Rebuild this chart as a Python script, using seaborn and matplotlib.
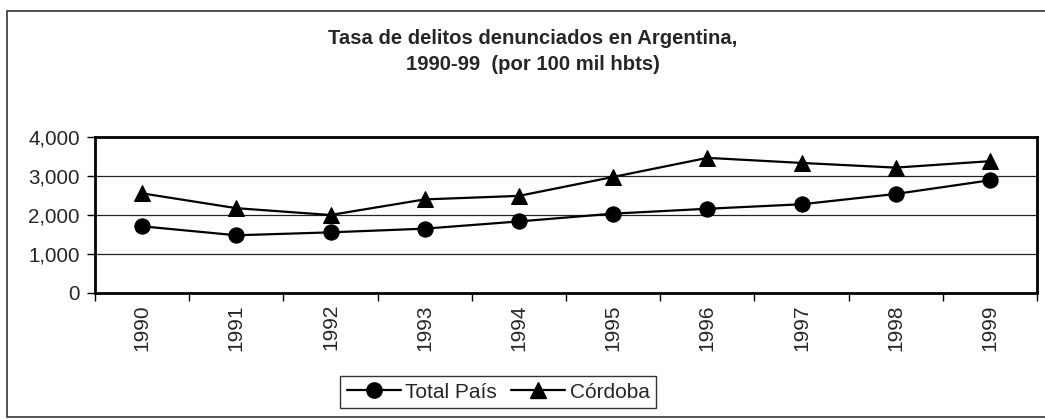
import numpy as np
import pandas as pd
import matplotlib
matplotlib.use("Agg")
import matplotlib.pyplot as plt
from matplotlib.lines import Line2D
from matplotlib.patches import Rectangle
import seaborn as sns

years = ["1990", "1991", "1992", "1993", "1994", "1995", "1996", "1997", "1998", "1999"]
total_pais = [1710, 1480, 1555, 1650, 1835, 2035, 2160, 2275, 2540, 2890]
cordoba = [2555, 2175, 2000, 2400, 2490, 2975, 3465, 3335, 3215, 3380]
series_names = ["Total País", "Córdoba"]
title = "Tasa de delitos denunciados en Argentina,\n1990-99  (por 100 mil hbts)"
yticks = [0, 1000, 2000, 3000, 4000]

df = pd.DataFrame({
    "year": years * 2,
    "value": total_pais + cordoba,
    "serie": [series_names[0]] * len(years) + [series_names[1]] * len(years),
})

sns.set_theme(style="white")
plt.rcParams["font.family"] = ["Liberation Sans", "DejaVu Sans"]

W, H = 1045, 419
fig = plt.figure(figsize=(W / 100, H / 100), dpi=100)
ax = fig.add_axes([95 / W, 1 - 293 / H, (1037 - 95) / W, (293 - 137) / H])

sns.lineplot(data=df, x="year", y="value", style="serie",
             markers={"Total País": "o", "Córdoba": "^"}, dashes=False,
             color="black", linewidth=1.6, markersize=11, ax=ax, legend=False,
             markeredgecolor="black", zorder=3)

ax.set_xlim(-0.5, len(years) - 0.5)
ax.set_ylim(0, 4000)
ax.set_yticks(yticks)
ax.set_yticklabels([f"{v:,}" for v in yticks], fontsize=14.8)
ax.set_xticks(range(len(years)))
ax.set_xticklabels(years, rotation=90, fontsize=15)
ax.set_xticks(np.arange(-0.5, len(years), 1), minor=True)
ax.tick_params(axis="x", which="major", length=0, pad=8)
ax.tick_params(axis="x", which="minor", length=6, width=1, color="black", direction="out", bottom=True)
ax.tick_params(axis="y", which="major", length=6, width=1, color="black", direction="out", left=True, pad=5)
ax.set_xlabel("")
ax.set_ylabel("")
for y in yticks[1:-1]:
    ax.axhline(y, color="#222222", linewidth=0.9, zorder=1)
for s in ax.spines.values():
    s.set_color("black")
    s.set_linewidth(2)
    s.set_visible(True)
ax.grid(False)

fig.text(533 / W, 1 - 29 / H, title, ha="center", va="top", fontsize=14.6,
         fontweight="bold", linespacing=1.5)

handles = [Line2D([], [], color="black", marker="o", markersize=11, linewidth=1.6),
           Line2D([], [], color="black", marker="^", markersize=11, linewidth=1.6)]
leg = fig.legend(handles, series_names, loc="center", bbox_to_anchor=(498 / W, 1 - 392 / H),
                 ncol=2, frameon=True, fancybox=False, edgecolor="black",
                 prop={"family": ["Liberation Sans Narrow", "Liberation Sans", "DejaVu Sans"], "size": 15},
                 handlelength=2.6, handletextpad=0.2, columnspacing=0.7, borderpad=0.3)
leg.get_frame().set_linewidth(1)

fig.patches.append(Rectangle((7 / W, 2 / H), (W - 6) / W, (H - 13) / H,
                             transform=fig.transFigure, fill=False,
                             edgecolor="#333333", linewidth=1.2))

fig.savefig("out.png", dpi=100)
